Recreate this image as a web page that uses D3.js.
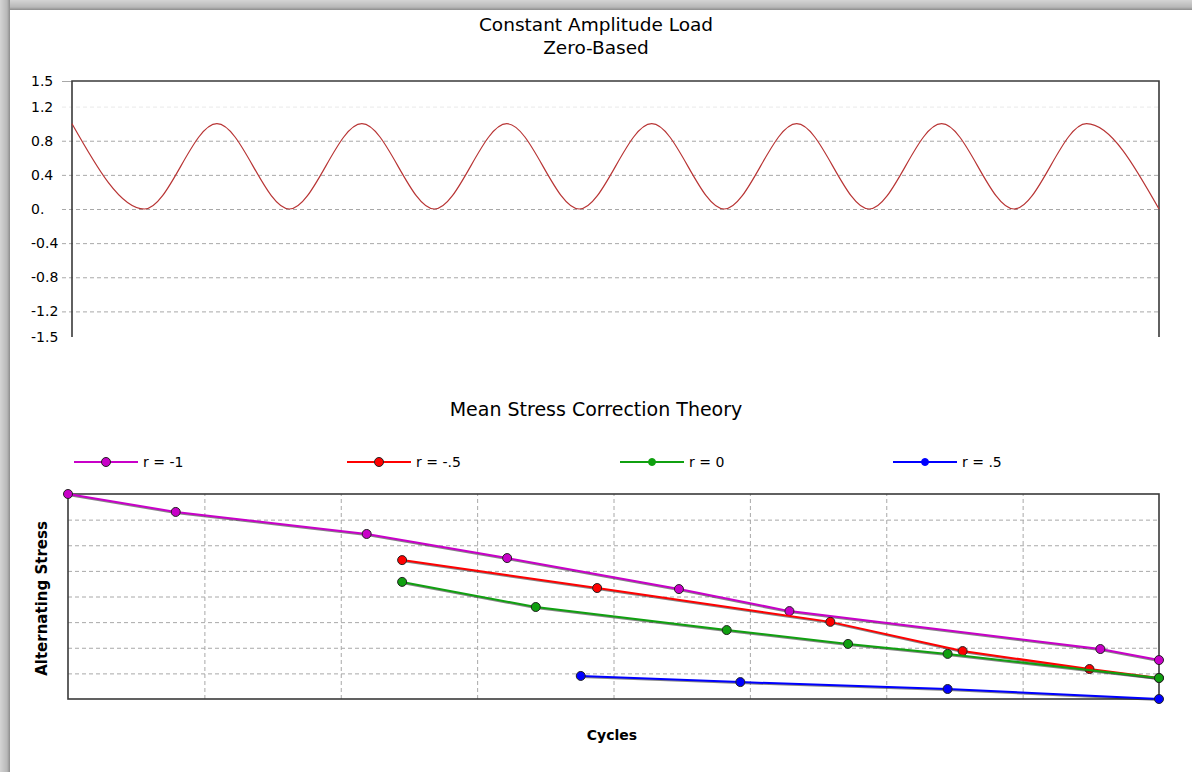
<!DOCTYPE html>
<html>
<head>
<meta charset="utf-8">
<script src="https://cdn.jsdelivr.net/npm/d3@7"></script>
<style>
  body { margin: 0; background: #fff; overflow: hidden; }
  #frame-top { position: absolute; left: 0; top: 0; width: 1192px; height: 10px;
    background: linear-gradient(to bottom, #d4d4d4, #b8b8b8 70%, #8c8c8c); }
  #frame-left { position: absolute; left: 0; top: 0; width: 10px; height: 772px;
    background: linear-gradient(to right, #d4d4d4, #b8b8b8 70%, #8c8c8c); }
  svg { position: absolute; left: 0; top: 0; font-family: "DejaVu Sans", sans-serif; }
  .grid line { stroke: #a8a8a8; stroke-dasharray: 4,3; }
  .grid path { display: none; }
</style>
</head>
<body>
<div id="frame-top"></div>
<div id="frame-left"></div>
<svg id="chart" width="1192" height="772"></svg>
<script>
// top chart: load history, value at every half cycle (peak / valley)
const loadCycles = [0, 0.5, 1, 1.5, 2, 2.5, 3, 3.5, 4, 4.5, 5, 5.5, 6, 6.5, 7, 7.5];
const loadValues = [1, 0, 1, 0, 1, 0, 1, 0, 1, 0, 1, 0, 1, 0, 1, 0];
const loadTicks = [1.5, 1.2, 0.8, 0.4, 0, -0.4, -0.8, -1.2, -1.5];
const loadTickLabels = ["1.5", "1.2", "0.8", "0.4", "0.", "-0.4", "-0.8", "-1.2", "-1.5"];

// bottom chart: mean stress correction curves (relative units, no labels shown)
const seriesNames = ["r = -1", "r = -.5", "r = 0", "r = .5"];
const seriesColors = ["#c800c8", "#ff0000", "#10a010", "#0000ff"];
const cyclesRm1 = [0, 0.79, 2.19, 3.22, 4.48, 5.29, 7.57, 8];
const stressRm1 = [8, 7.30, 6.44, 5.50, 4.29, 3.43, 1.95, 1.52];
const cyclesRm05 = [2.45, 3.88, 5.59, 6.56, 7.49, 8];
const stressRm05 = [5.42, 4.33, 3.01, 1.87, 1.17, 0.82];
const cyclesR0 = [2.45, 3.43, 4.83, 5.72, 6.45, 8];
const stressR0 = [4.57, 3.59, 2.69, 2.15, 1.76, 0.82];
const cyclesR05 = [3.76, 4.93, 6.45, 8];
const stressR05 = [0.90, 0.66, 0.39, 0];

const svg = d3.select("#chart");

// ---------- top chart ----------
const top1 = { left: 72, right: 1159, top: 81, bottom: 337 };
const x1 = d3.scaleLinear().domain([0, 7.5]).range([top1.left, top1.right]);
const y1 = d3.scaleLinear().domain([-1.5, 1.5]).range([top1.bottom, top1.top]);

svg.append("text").attr("x", 596).attr("y", 31).attr("text-anchor", "middle")
    .style("font-size", "18.5px").attr("fill", "#000").text("Constant Amplitude Load");
svg.append("text").attr("x", 596).attr("y", 54).attr("text-anchor", "middle")
    .style("font-size", "18.5px").attr("fill", "#000").text("Zero-Based");

const gy1 = svg.append("g")
    .attr("class", "grid")
    .attr("transform", `translate(${top1.left},0)`)
    .call(d3.axisLeft(y1).tickValues(loadTicks)
        .tickFormat((d, i) => loadTickLabels[i])
        .tickSize(-(top1.right - top1.left)));
gy1.selectAll(".tick line")
    .attr("x1", -10)
    .style("display", d => (d === -1.5 ? "none" : null))
    .style("stroke-dasharray", d => (d === 1.5 ? "none" : null))
    .attr("x2", d => (d === 1.5 ? 0 : top1.right - top1.left))
    .style("opacity", d => (d === 1.2 ? 0.25 : 1));
gy1.selectAll(".tick text")
    .attr("x", 31 - top1.left)
    .attr("text-anchor", "start")
    .attr("fill", "#000")
    .style("font-family", "DejaVu Sans, sans-serif")
    .style("font-size", "14px");

svg.append("path")
    .attr("d", `M${top1.left},${top1.bottom}V${top1.top}H${top1.right}V${top1.bottom}`)
    .attr("fill", "none").attr("stroke", "#3a3a3a").attr("stroke-width", 1.6);

svg.append("path")
    .datum(loadCycles.map((c, i) => [c, loadValues[i]]))
    .attr("fill", "none")
    .attr("stroke", "#b83434")
    .attr("stroke-width", 1.2)
    .attr("d", d3.line().x(d => x1(d[0])).y(d => y1(d[1])).curve(d3.curveMonotoneX));

// ---------- bottom chart ----------
const b = { left: 68, right: 1159, top: 494, bottom: 699 };
const x2 = d3.scaleLinear().domain([0, 8]).range([b.left, b.right]);
const y2 = d3.scaleLinear().domain([0, 8]).range([b.bottom, b.top]);

svg.append("text").attr("x", 596).attr("y", 416).attr("text-anchor", "middle")
    .style("font-size", "19px").attr("fill", "#000").text("Mean Stress Correction Theory");

svg.append("g").attr("class", "grid")
    .attr("transform", `translate(0,${b.bottom})`)
    .call(d3.axisBottom(x2).tickValues(d3.range(1, 8)).tickFormat("")
        .tickSize(-(b.bottom - b.top)));
svg.append("g").attr("class", "grid")
    .attr("transform", `translate(${b.left},0)`)
    .call(d3.axisLeft(y2).tickValues(d3.range(1, 8)).tickFormat("")
        .tickSize(-(b.right - b.left)));

svg.append("rect")
    .attr("x", b.left).attr("y", b.top)
    .attr("width", b.right - b.left).attr("height", b.bottom - b.top)
    .attr("fill", "none").attr("stroke", "#3a3a3a").attr("stroke-width", 1.6);

svg.append("text")
    .attr("transform", `translate(47,${(b.top + b.bottom) / 2 + 2}) rotate(-90)`)
    .attr("text-anchor", "middle").style("font-size", "15px").style("font-weight", "bold")
    .attr("fill", "#000").text("Alternating Stress");
svg.append("text").attr("x", 612).attr("y", 740).attr("text-anchor", "middle")
    .style("font-size", "14px").style("font-weight", "bold")
    .attr("fill", "#000").text("Cycles");

const series = [
    { name: seriesNames[0], color: seriesColors[0], xs: cyclesRm1, ys: stressRm1 },
    { name: seriesNames[1], color: seriesColors[1], xs: cyclesRm05, ys: stressRm05 },
    { name: seriesNames[2], color: seriesColors[2], xs: cyclesR0, ys: stressR0 },
    { name: seriesNames[3], color: seriesColors[3], xs: cyclesR05, ys: stressR05 }
];

const line2 = d3.line().x(d => x2(d[0])).y(d => y2(d[1]));

series.forEach(s => {
    const pts = s.xs.map((c, i) => [c, s.ys[i]]);
    // dark shadow under the line
    svg.append("path").datum(pts)
        .attr("fill", "none").attr("stroke", "#202020").attr("stroke-opacity", 0.55)
        .attr("stroke-width", 2).attr("transform", "translate(0,1)").attr("d", line2);
    svg.append("path").datum(pts)
        .attr("fill", "none").attr("stroke", s.color)
        .attr("stroke-width", 2).attr("d", line2);
    svg.selectAll(null).data(pts).enter().append("circle")
        .attr("cx", d => x2(d[0])).attr("cy", d => y2(d[1])).attr("r", 4.5)
        .attr("fill", s.color).attr("stroke", "#222").attr("stroke-width", 1);
});

// legend
const legend = svg.append("g").attr("transform", "translate(74,462)");
const item = legend.selectAll("g").data(series).enter().append("g")
    .attr("transform", (d, i) => `translate(${i * 273},0)`);
item.append("line").attr("x1", 0).attr("x2", 64)
    .attr("stroke", d => d.color).attr("stroke-width", 2.2);
item.append("circle").attr("cx", 32).attr("r", (d, i) => (i < 2 ? 4.5 : 3.5))
    .attr("fill", d => d.color).attr("stroke", (d, i) => (i < 2 ? "#222" : d.color));
item.append("text").attr("x", 69).attr("y", 5)
    .style("font-size", "14px").attr("fill", "#000").text(d => d.name);
</script>
</body>
</html>
